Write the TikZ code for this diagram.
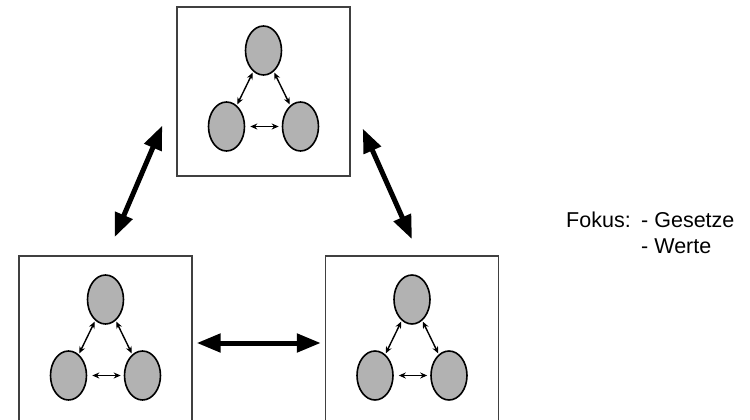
\documentclass[tikz,border=0pt]{standalone}
\usepackage{fontspec}
\setmainfont{Liberation Sans}
\usetikzlibrary{arrows.meta,shapes.geometric}

\tikzset{
  frame/.style={draw=black!75,line width=1.4pt,minimum width=173pt,minimum height=169pt,inner sep=0pt},
  member/.style={ellipse,draw,line width=1.6pt,fill=black!30,minimum width=36pt,minimum height=49pt,inner sep=0pt},
  link/.style={{Stealth[length=7pt,width=6pt]}-{Stealth[length=7pt,width=6pt]},line width=1.4pt,shorten <=1pt,shorten >=1pt},
  bigarrow/.style={{Triangle[length=24pt,width=18pt]}-{Triangle[length=24pt,width=18pt]},line width=5pt},
  tagtext/.style={anchor=base west,inner sep=0pt,font=\fontsize{21.5}{26}\selectfont}
}

\begin{document}
\begin{tikzpicture}[x=1pt,y=-1pt]
\clip (0,0) rectangle (750,420);
\useasboundingbox (0,0) rectangle (750,420);

% three groups of three
\foreach \b/\x/\y in {T/263.5/91.5, L/105.5/340.5, R/412/340.5} {
  \node[frame] (\b) at (\x,\y) {};
  \node[member] (\b1) at ([shift={(0,-41)}]\b.center) {};
  \node[member] (\b2) at ([shift={(-37,35)}]\b.center) {};
  \node[member] (\b3) at ([shift={(37,35)}]\b.center) {};
  \draw[link] (\b1) -- (\b2);
  \draw[link] (\b1) -- (\b3);
  \draw[link,shorten <=5pt,shorten >=3pt] (\b2) -- (\b3);
}

% exchange between the groups
\draw[bigarrow] ([shift={(-14,34)}]T.west) -- ([shift={(9,-18)}]L.north);
\draw[bigarrow] ([shift={(12,37)}]T.east) -- ([shift={(0,-16)}]R.north);
\draw[bigarrow] ([shift={(4,2.5)}]L.east) -- ([shift={(-4,2.5)}]R.west);

\node[tagtext] (focus) at (566,227) {Fokus:};
\node[tagtext] (laws) at (641,227) {- Gesetze};
\node[tagtext] (values) at (641,253) {- Werte};
\end{tikzpicture}
\end{document}
